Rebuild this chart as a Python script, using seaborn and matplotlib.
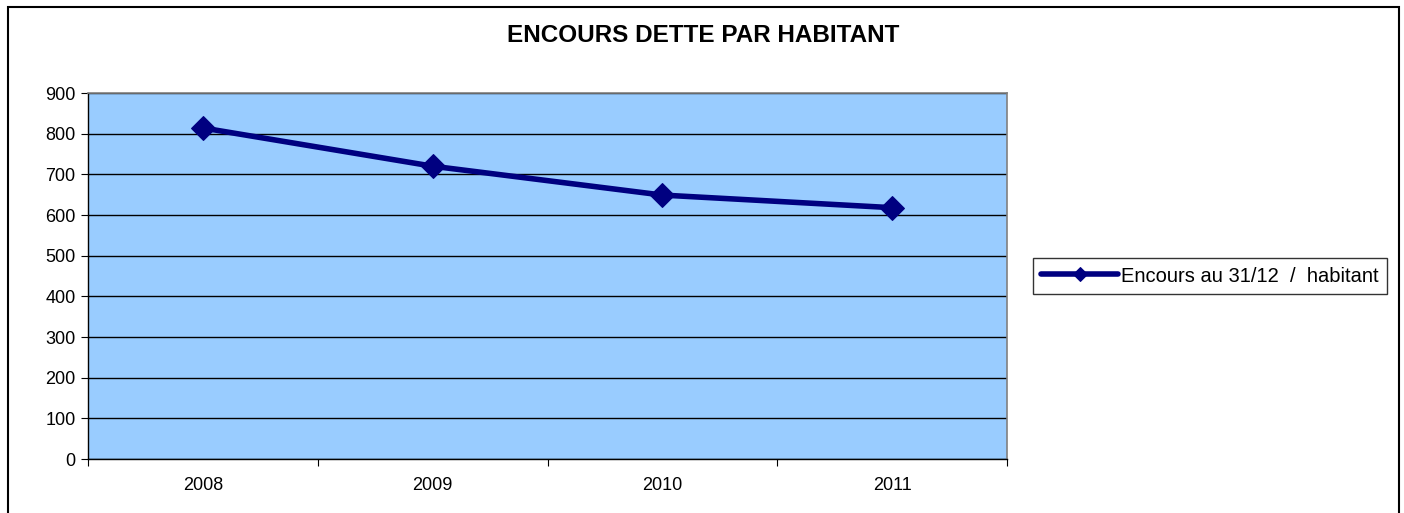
import matplotlib
matplotlib.use("Agg")
import matplotlib.pyplot as plt
import seaborn as sns
import pandas as pd
from matplotlib.patches import Rectangle

years = ["2008", "2009", "2010", "2011"]
encours = [814, 720, 649, 618]
series_name = "Encours au 31/12  /  habitant"
title = "ENCOURS DETTE PAR HABITANT"
yticks = [0, 100, 200, 300, 400, 500, 600, 700, 800, 900]

df = pd.DataFrame({"annee": years, "valeur": encours})

sns.set_style("white")
plt.rcParams["font.family"] = ["Liberation Sans", "DejaVu Sans"]
plt.rcParams["text.color"] = "black"
plt.rcParams["xtick.color"] = "black"
plt.rcParams["ytick.color"] = "black"

W, H = 1404, 513
fig = plt.figure(figsize=(W / 100, H / 100), dpi=100)
ax = fig.add_axes([88 / W, 1 - 459 / H, (1007 - 88) / W, (459 - 93) / H])
ax.set_facecolor("#99CCFF")

sns.lineplot(data=df, x="annee", y="valeur", ax=ax, color="#000080",
             linewidth=4, marker="D", markersize=12, markeredgecolor="#000080",
             label=series_name, legend=False)

ax.set_ylim(0, 900)
ax.set_xlim(-0.5, 3.5)
ax.set_yticks(yticks)
ax.yaxis.grid(True, color="black", linewidth=1)
ax.set_axisbelow(True)
ax.set_xticks([-0.5, 0.5, 1.5, 2.5, 3.5])
ax.set_xticklabels([])
ax.set_xticks(range(len(years)), minor=True)
ax.set_xticklabels(years, minor=True)
ax.tick_params(axis="x", which="major", length=5, color="black", direction="out", bottom=True)
ax.tick_params(axis="x", which="minor", length=0, pad=13, labelsize=13)
ax.tick_params(axis="y", length=5, color="black", direction="out", left=True, labelsize=13, pad=4)
ax.set_xlabel("")
ax.set_ylabel("")
for side in ["top", "right"]:
    ax.spines[side].set_color("#808080")
    ax.spines[side].set_linewidth(1.2)
for side in ["left", "bottom"]:
    ax.spines[side].set_color("black")
    ax.spines[side].set_linewidth(1)

fig.text(703 / W, 1 - 36 / H, title, ha="center", va="center",
         fontsize=17.5, fontweight="bold")

handles, labels = ax.get_legend_handles_labels()
leg = fig.legend(handles, labels, loc="center", bbox_to_anchor=(1210 / W, 1 - 276 / H),
                 fontsize=14.5, frameon=True, fancybox=False, handlelength=3.8,
                 handletextpad=0.15, borderpad=0.4, borderaxespad=0)
leg.get_frame().set_edgecolor("black")
leg.get_frame().set_linewidth(1)
for h in leg.legend_handles:
    h.set_markersize(7)

fig.patches.append(Rectangle((8 / W, -0.05), (1399 - 8) / W, 1.05 - 7 / H,
                             transform=fig.transFigure, fill=False,
                             edgecolor="black", linewidth=1.5))

fig.savefig("out.png", dpi=100)
